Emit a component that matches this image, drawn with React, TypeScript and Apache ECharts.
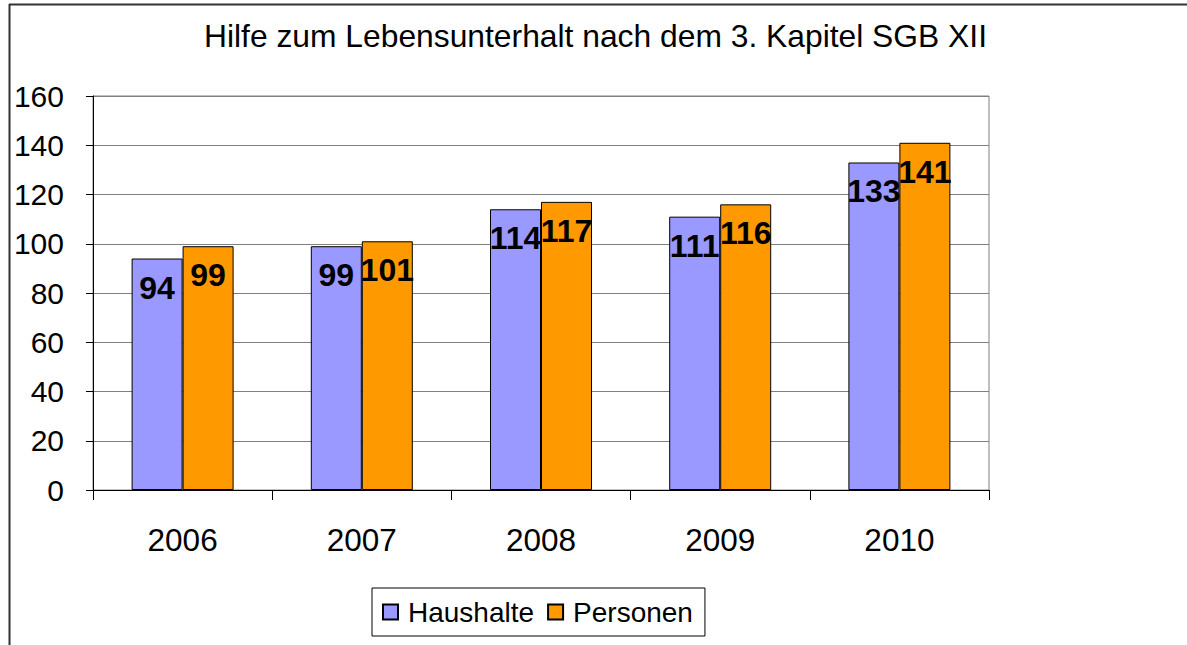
import React, { useEffect, useRef } from "react";
import * as echarts from "echarts";

const categories = ["2006", "2007", "2008", "2009", "2010"];
const haushalte = [94, 99, 114, 111, 133];
const personen = [99, 101, 117, 116, 141];
const titleText = "Hilfe zum Lebensunterhalt nach dem 3. Kapitel SGB XII";
const FONT = "'Liberation Sans', Arial, sans-serif";

export default function App() {
  const ref = useRef<HTMLDivElement>(null);
  useEffect(() => {
    if (!ref.current) return;
    const chart = echarts.init(ref.current, null, { renderer: "svg" });
    const label = {
      show: true,
      position: "insideTop",
      distance: 13,
      color: "#000",
      fontWeight: "bold",
      fontSize: 32,
      fontFamily: FONT,
    };
    chart.setOption({
      animation: false,
      backgroundColor: "#fff",
      textStyle: { fontFamily: FONT },
      title: {
        text: titleText,
        left: 199,
        top: 15,
        textStyle: { fontSize: 31.8, fontWeight: "normal", color: "#000", fontFamily: FONT },
      },
      grid: {
        left: 93,
        right: 198,
        top: 96,
        bottom: 155,
        show: true,
        borderColor: "#808080",
        borderWidth: 1,
      },
      legend: {
        left: 372,
        top: 588,
        padding: [10, 12, 10, 10],
        borderColor: "#000",
        borderWidth: 1,
        itemWidth: 15,
        itemHeight: 15,
        itemGap: 13,
        icon: "rect",
        textStyle: { fontSize: 28, color: "#000", fontFamily: FONT, padding: [0, 0, 0, 5] },
        data: ["Haushalte", "Personen"],
      },
      xAxis: {
        type: "category",
        data: categories,
        axisLine: { lineStyle: { color: "#000", width: 1 } },
        axisTick: { show: true, alignWithLabel: false, length: 10, lineStyle: { color: "#000" } },
        axisLabel: { fontSize: 31.5, color: "#000", margin: 34, fontFamily: FONT },
      },
      yAxis: {
        type: "value",
        min: 0,
        max: 160,
        interval: 20,
        axisLine: { show: true, lineStyle: { color: "#000", width: 1 } },
        axisTick: { show: true, length: 7, lineStyle: { color: "#000" } },
        axisLabel: { fontSize: 30, color: "#000", margin: 29, fontFamily: FONT },
        splitLine: { show: true, lineStyle: { color: "#808080", width: 1 } },
      },
      series: [
        {
          name: "Haushalte",
          type: "bar",
          data: haushalte,
          barWidth: 51,
          barGap: "0%",
          itemStyle: { color: "#9999FF", borderColor: "#000", borderWidth: 1 },
          label,
        },
        {
          name: "Personen",
          type: "bar",
          data: personen,
          barWidth: 51,
          barGap: "0%",
          itemStyle: { color: "#FF9900", borderColor: "#000", borderWidth: 1 },
          label,
        },
      ],
      graphic: [
        { type: "line", shape: { x1: 9.5, y1: 4, x2: 9.5, y2: 645 }, style: { stroke: "#333", lineWidth: 2 } },
        { type: "line", shape: { x1: 9, y1: 4.5, x2: 1187, y2: 4.5 }, style: { stroke: "#333", lineWidth: 2 } },
      ],
    });
    return () => chart.dispose();
  }, []);
  return (
    <div
      ref={ref}
      style={{ position: "fixed", left: 0, top: 0, width: 1187, height: 645 }}
    />
  );
}
